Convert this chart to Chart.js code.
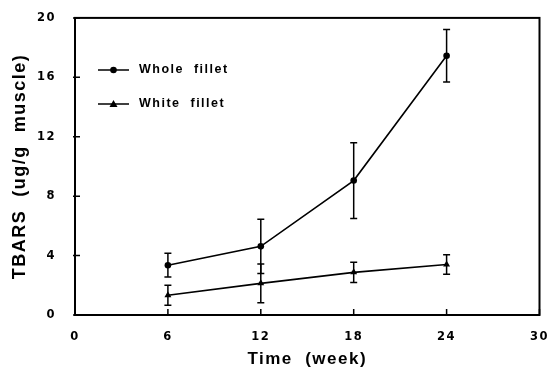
<!DOCTYPE html>
<html>
<head>
<meta charset="utf-8">
<script src="https://cdn.jsdelivr.net/npm/chart.js@4"></script>
<style>
  html, body { margin: 0; padding: 0; background: #fff; }
  #wrap { width: 556px; height: 368px; }
</style>
</head>
<body>
<div id="wrap"><canvas id="tbarsChart"></canvas></div>
<script>
// values
const weeks = [6, 12, 18, 24];
const wholeFillet = [3.35, 4.62, 9.05, 17.45];
const wholeErr = [0.8, 1.83, 2.55, 1.77];
const whiteFillet = [1.33, 2.13, 2.87, 3.4];
const whiteErr = [0.67, 1.3, 0.68, 0.65];
const xTicks = [0, 6, 12, 18, 24, 30];
const yTicks = [0, 4, 8, 12, 16, 20];

const errors = [wholeErr, whiteErr];
const FONT = "'Liberation Sans', Arial, sans-serif";
const TICK_FONT = "'DejaVu Sans', sans-serif";

function spacing(chart) {
  chart.ctx.letterSpacing = '1.5px';
}

const framePlugin = {
  id: 'frame',
  beforeLayout: spacing,
  beforeDraw(chart) {
    const ctx = chart.ctx;
    ctx.save();
    ctx.fillStyle = '#fff';
    ctx.fillRect(0, 0, chart.width, chart.height);
    ctx.restore();
    spacing(chart);
  },
  afterDraw(chart) {
    const {ctx, chartArea: a, scales} = chart;
    ctx.save();
    ctx.strokeStyle = '#000';
    ctx.lineWidth = 2;
    ctx.strokeRect(a.left, a.top, a.right - a.left, a.bottom - a.top);
    // inward tick marks
    ctx.lineWidth = 1.5;
    ctx.beginPath();
    scales.x.ticks.forEach(t => {
      const px = scales.x.getPixelForValue(t.value);
      ctx.moveTo(px, a.bottom);
      ctx.lineTo(px, a.bottom - 6);
    });
    scales.y.ticks.forEach(t => {
      const py = scales.y.getPixelForValue(t.value);
      ctx.moveTo(a.left - 2, py);
      ctx.lineTo(a.left + 5, py);
    });
    ctx.stroke();
    ctx.restore();
  }
};

const errorBarPlugin = {
  id: 'errorBars',
  afterDatasetsDraw(chart) {
    const ctx = chart.ctx;
    const yScale = chart.scales.y;
    ctx.save();
    ctx.strokeStyle = '#000';
    ctx.lineWidth = 1.5;
    chart.data.datasets.forEach((ds, i) => {
      const meta = chart.getDatasetMeta(i);
      meta.data.forEach((pt, j) => {
        const v = ds.data[j].y;
        const e = errors[i][j];
        const top = yScale.getPixelForValue(v + e);
        const bot = yScale.getPixelForValue(v - e);
        ctx.beginPath();
        ctx.moveTo(pt.x, top);
        ctx.lineTo(pt.x, bot);
        ctx.moveTo(pt.x - 3.5, top);
        ctx.lineTo(pt.x + 3.5, top);
        ctx.moveTo(pt.x - 3.5, bot);
        ctx.lineTo(pt.x + 3.5, bot);
        ctx.stroke();
      });
    });
    ctx.restore();
  }
};

const legendPlugin = {
  id: 'inLegend',
  afterDraw(chart) {
    const ctx = chart.ctx;
    const rows = [70, 104];
    ctx.save();
    chart.data.datasets.forEach((ds, i) => {
      const y = rows[i];
      ctx.strokeStyle = '#000';
      ctx.fillStyle = '#000';
      ctx.lineWidth = 1.5;
      ctx.beginPath();
      ctx.moveTo(98, y);
      ctx.lineTo(129, y);
      ctx.stroke();
      ctx.beginPath();
      if (ds.pointStyle === 'triangle') {
        ctx.moveTo(113.5, y - 4);
        ctx.lineTo(117.5, y + 3);
        ctx.lineTo(109.5, y + 3);
        ctx.closePath();
      } else {
        ctx.arc(113.5, y, 3.3, 0, Math.PI * 2);
      }
      ctx.fill();
      ctx.font = 'bold 12.5px ' + FONT;
      ctx.textBaseline = 'middle';
      ctx.fillText(ds.label, 139, y);
    });
    ctx.restore();
  }
};

const ctx = document.getElementById('tbarsChart');
new Chart(ctx, {
  type: 'line',
  data: {
    datasets: [{
      label: 'Whole  fillet',
      data: weeks.map((w, i) => ({x: w, y: wholeFillet[i]})),
      borderColor: '#000',
      backgroundColor: '#000',
      borderWidth: 1.6,
      pointStyle: 'circle',
      pointRadius: 3.3,
      pointBorderWidth: 0,
      tension: 0
    }, {
      label: 'White  fillet',
      data: weeks.map((w, i) => ({x: w, y: whiteFillet[i]})),
      borderColor: '#000',
      backgroundColor: '#000',
      borderWidth: 1.6,
      pointStyle: 'triangle',
      pointRadius: 4,
      pointBorderWidth: 0,
      tension: 0
    }]
  },
  options: {
    responsive: true,
    maintainAspectRatio: false,
    animation: false,
    layout: { padding: { top: 15, right: 10, left: 0, bottom: 0 } },
    plugins: {
      legend: { display: false },
      tooltip: { enabled: false }
    },
    scales: {
      x: {
        type: 'linear',
        min: 0,
        max: 30,
        afterBuildTicks: s => { s.ticks = xTicks.map(v => ({value: v})); },
        afterFit: s => { s.height = 53; },
        grid: { display: false },
        border: { display: false },
        ticks: {
          color: '#000',
          padding: 7,
          maxRotation: 0,
          font: { family: TICK_FONT, size: 11.5, weight: 'bold' }
        },
        title: {
          display: true,
          text: 'Time  (week)',
          color: '#000',
          padding: { top: 0, bottom: 0 },
          font: { family: FONT, size: 17, weight: 'bold', lineHeight: 1 }
        }
      },
      y: {
        min: 0,
        max: 20,
        afterBuildTicks: s => { s.ticks = yTicks.map(v => ({value: v})); },
        afterFit: s => { s.width = 75; },
        grid: { display: false },
        border: { display: false },
        ticks: {
          color: '#000',
          padding: 11,
          font: { family: TICK_FONT, size: 11.5, weight: 'bold' }
        },
        title: {
          display: true,
          text: 'TBARS  (ug/g  muscle)',
          color: '#000',
          padding: { top: 11.5, bottom: 0 },
          font: { family: FONT, size: 18, weight: 'bold', lineHeight: 1 }
        }
      }
    }
  },
  plugins: [framePlugin, errorBarPlugin, legendPlugin]
});
</script>
</body>
</html>
